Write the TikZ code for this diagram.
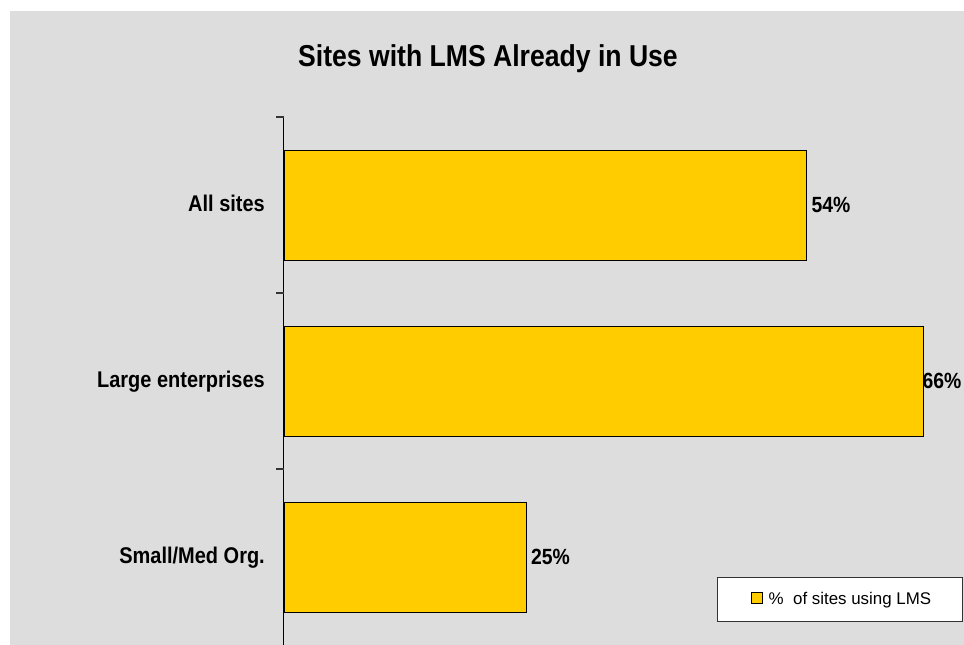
\documentclass[tikz,border=0pt]{standalone}
\usepackage{fontspec}
\setmainfont{Liberation Sans}
\newfontfamily\narrowfont{Liberation Sans}[FakeStretch=0.88]
\definecolor{bggray}{HTML}{DDDDDD}
\definecolor{baryellow}{HTML}{FFCC00}
\tikzset{
  hbar/.style={draw=black, line width=0.8pt, fill=baryellow, anchor=west,
    minimum height=110pt, inner sep=0pt, outer sep=0pt},
  catlabel/.style={anchor=base east, inner sep=0pt,
    font=\narrowfont\bfseries\fontsize{22.7}{26}\selectfont},
  vallabel/.style={anchor=base west, inner sep=0pt,
    font=\narrowfont\bfseries\fontsize{22}{26}\selectfont},
  axisline/.style={line width=1.2pt, black},
  ticktick/.style={line width=1.2pt, black!80},
}
\begin{document}
\begin{tikzpicture}[x=1pt,y=-1pt]
\useasboundingbox (0,0) rectangle (964,645);
\fill[bggray] (10,11) rectangle (964,645);

% title
\node[anchor=base, inner sep=0pt, font=\narrowfont\bfseries\fontsize{30.2}{36}\selectfont]
  (title) at (488,66.5) {Sites with LMS Already in Use};

% axis
\coordinate (axtop) at (283.5,117);
\coordinate (axbot) at (283.5,645);
\draw[axisline] (axtop) -- (axbot);
\coordinate (t1) at (276,117);
\coordinate (t2) at (276,293);
\coordinate (t3) at (276,469);
\coordinate (a1) at (283.5,117);
\coordinate (a2) at (283.5,293);
\coordinate (a3) at (283.5,469);
\draw[ticktick] (t1) -- (a1);
\draw[ticktick] (t2) -- (a2);
\draw[ticktick] (t3) -- (a3);

% bars
\node[hbar, minimum width=522pt] (b1) at (284,205) {};
\node[hbar, minimum width=639pt] (b2) at (284,381) {};
\node[hbar, minimum width=242pt] (b3) at (284,557) {};

% category labels
\node[catlabel] (c1) at (265,211.5) {All sites};
\node[catlabel] (c2) at (265,387.5) {Large enterprises};
\node[catlabel] (c3) at (265,563.5) {Small/Med Org.};

% value labels
\node[vallabel] (v1) at (811.5,212) {54\%};
\node[vallabel] (v2) at (922.5,388) {66\%};
\node[vallabel] (v3) at (531,564) {25\%};

% legend
\node[draw=black!80, line width=0.8pt, fill=white, minimum width=245pt,
  minimum height=44pt, inner sep=0pt] (leg) at (839.5,599) {};
\node[draw=black, line width=0.7pt, fill=baryellow, minimum size=11pt,
  inner sep=0pt] (sw) at (757,598) {};
\node[anchor=base west, inner sep=0pt, font=\fontsize{16.9}{20}\selectfont]
  (lt) at (768.5,604.3) {\%\ \ of sites using LMS};
\end{tikzpicture}
\end{document}
